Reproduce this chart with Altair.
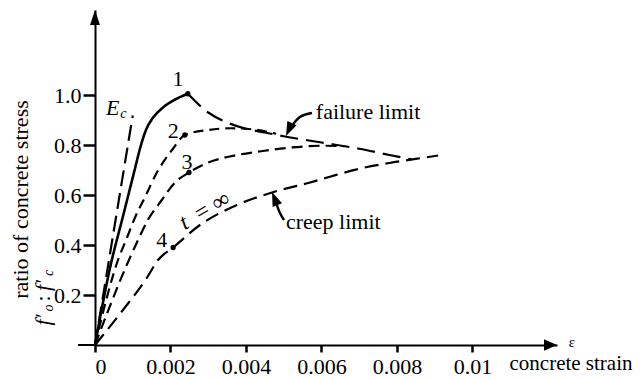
import altair as alt
import pandas as pd

FONT = "'Liberation Serif', 'Times New Roman', Times, 'DejaVu Serif', serif"

# ---------------- data ----------------
ec_strain = [0.0, 0.00100]
ec_stress = [0.0, 0.918]

c1_strain = [0.0, 0.0004, 0.00075, 0.00105, 0.00120, 0.00135, 0.00154, 0.0018, 0.0021, 0.00246]
c1_stress = [0.0, 0.31, 0.52, 0.70, 0.79, 0.86, 0.91, 0.95, 0.98, 1.005]

fail_strain = [0.00246, 0.0030, 0.0035, 0.0040, 0.0045, 0.0050, 0.0060, 0.0070, 0.0078, 0.0084]
fail_stress = [1.005, 0.93, 0.89, 0.865, 0.85, 0.835, 0.81, 0.785, 0.76, 0.742]

c2_strain = [0.0, 0.00061, 0.00085, 0.00106, 0.00132, 0.00164, 0.00204, 0.00238, 0.0030, 0.0036, 0.0042, 0.0048]
c2_stress = [0.0, 0.34, 0.43, 0.51, 0.59, 0.69, 0.78, 0.84, 0.86, 0.867, 0.862, 0.845]

c3_strain = [0.0, 0.00087, 0.00111, 0.0014, 0.00177, 0.00212, 0.00249, 0.0030, 0.0036, 0.0044, 0.0052, 0.0060, 0.0066]
c3_stress = [0.0, 0.33, 0.41, 0.50, 0.58, 0.65, 0.69, 0.73, 0.755, 0.775, 0.79, 0.797, 0.795]

c4_strain = [0.0, 0.00074, 0.00138, 0.00167, 0.00207, 0.00278, 0.00376, 0.00469, 0.0057, 0.0062, 0.0070, 0.0078, 0.0084, 0.00909]
c4_stress = [0.0, 0.14, 0.27, 0.34, 0.39, 0.48, 0.56, 0.61, 0.65, 0.672, 0.705, 0.728, 0.742, 0.758]

dot_strain = [0.00246, 0.00238, 0.00249, 0.00207]
dot_stress = [1.005, 0.84, 0.69, 0.39]

num_labels = ["1", "2", "3", "4"]
num_strain = [0.0022, 0.00207, 0.00244, 0.00177]
num_stress = [1.064, 0.856, 0.732, 0.42]

x_ticks = [0, 0.002, 0.004, 0.006, 0.008, 0.01]
y_ticks = [0.2, 0.4, 0.6, 0.8, 1.0]

X_MAX = 0.01224
Y_MAX = 1.34

# annotation arrows
fail_arrow_strain = [0.00575, 0.00543, 0.00525]
fail_arrow_stress = [0.928, 0.912, 0.884]
fail_tip = (0.00506, 0.836)
creep_arrow_strain = [0.00501, 0.00490, 0.00480]
creep_arrow_stress = [0.50, 0.528, 0.568]
creep_tip = (0.00469, 0.612)

xs = alt.Scale(domain=[0, X_MAX], nice=False, zero=False)
ys = alt.Scale(domain=[0, Y_MAX], nice=False, zero=False)


def df(xv, yv):
    return pd.DataFrame({"x": xv, "y": yv, "i": list(range(len(xv)))})


def curve(xv, yv, dash=None, width=2.2, interp="monotone"):
    kw = dict(color="black", strokeWidth=width, interpolate=interp, clip=False)
    if dash:
        kw["strokeDash"] = dash
    return alt.Chart(df(xv, yv)).mark_line(**kw).encode(
        x=alt.X("x:Q", scale=xs,
                axis=alt.Axis(values=x_ticks, format="~g", tickSize=7, labelPadding=4,
                              title="concrete strain", titleX=414, titleY=18,
                              titleAlign="left", titleBaseline="middle",
                              titleFont=FONT, titleFontSize=21, titleFontWeight="normal",
                              titleColor="black", grid=False)),
        y=alt.Y("y:Q", scale=ys,
                axis=alt.Axis(values=y_ticks, format=".1f", tickSize=12, labelPadding=2,
                              title="ratio of concrete stress", titleX=-75, titleY=189,
                              titleAngle=270, titleAlign="center", titleBaseline="middle",
                              titleFont=FONT, titleFontSize=22, titleFontWeight="normal",
                              titleColor="black", grid=False)),
        order="i:O",
    )


layers = []
layers.append(curve(ec_strain, ec_stress, dash=[16, 7]))
layers.append(curve(c1_strain, c1_stress, width=2.6))
layers.append(curve(fail_strain, fail_stress, dash=[18, 8]))
layers.append(curve(c2_strain, c2_stress, dash=[10, 6]))
layers.append(curve(c3_strain, c3_stress, dash=[11, 6]))
layers.append(curve(c4_strain, c4_stress, dash=[14, 7]))

# x-axis extension to the left of origin
layers.append(curve([-0.00045, 0.0], [0.0, 0.0], width=2, interp="linear"))

# dots
layers.append(alt.Chart(df(dot_strain, dot_stress)).mark_point(
    filled=True, color="black", size=28, opacity=1).encode(x="x:Q", y="y:Q"))

# axis arrowheads
up_tri = "M0,0L0.33,1L-0.33,1Z"
layers.append(alt.Chart(df([0.0], [Y_MAX])).mark_point(
    shape=up_tri, filled=True, color="black", size=900, opacity=1, clip=False).encode(
    x="x:Q", y="y:Q", angle=alt.value(0)))
right_tri = "M0,0L0.45,1L-0.45,1Z"
layers.append(alt.Chart(df([X_MAX], [0.0])).mark_point(
    shape=right_tri, filled=True, color="black", size=676, opacity=1, clip=False).encode(
    x="x:Q", y="y:Q", angle=alt.value(90)))

# annotation arrows
layers.append(curve(fail_arrow_strain, fail_arrow_stress, width=2.4))
layers.append(curve(creep_arrow_strain, creep_arrow_stress, width=2.4))
head = "M0,0L0.36,1L-0.36,1Z"
layers.append(alt.Chart(df([fail_tip[0]], [fail_tip[1]])).mark_point(
    shape=head, filled=True, color="black", size=800, opacity=1).encode(
    x="x:Q", y="y:Q", angle=alt.value(205)))
layers.append(alt.Chart(df([creep_tip[0]], [creep_tip[1]])).mark_point(
    shape=head, filled=True, color="black", size=800, opacity=1).encode(
    x="x:Q", y="y:Q", angle=alt.value(338)))


def text(label, x, y, size=22, style="normal", align="center", angle=0, font=FONT):
    d = pd.DataFrame({"x": [x], "y": [y], "t": [label]})
    return alt.Chart(d).mark_text(
        font=font, fontSize=size, fontStyle=style, align=align, baseline="middle",
        color="black", angle=angle).encode(x="x:Q", y="y:Q", text="t:N")


for lab, sx, sy in zip(num_labels, num_strain, num_stress):
    layers.append(text(lab, sx, sy))

layers.append(text("E", 0.00047, 0.95, style="italic"))
layers.append(text("c", 0.00075, 0.925, size=14, style="italic"))
layers.append(text("t", 0.00236, 0.49, size=23, style="italic", angle=330))
layers.append(text("= ∞", 0.00311, 0.555, size=24, angle=330))
layers.append(text("failure limit", 0.00585, 0.932, align="left"))
layers.append(text("creep limit", 0.00506, 0.492, align="left"))
layers.append(text("ε", 0.01255, 0.012, size=15, align="left"))

# f'o : f'c (rotated, below the axis title)
layers.append(text("f′", -0.001378, 0.10, style="italic", angle=270))
layers.append(text("o", -0.001219, 0.148, size=14, style="italic", angle=270))
layers.append(text(":", -0.001378, 0.186, angle=270))
layers.append(text("f′", -0.001378, 0.238, style="italic", angle=270))
layers.append(text("c", -0.001219, 0.288, size=14, style="italic", angle=270))

chart = alt.layer(*layers).properties(
    width=462, height=335,
    padding={"left": 87, "top": 2, "right": 78, "bottom": 33},
    autosize=alt.AutoSizeParams(type="none"),
    background="white",
).configure_view(stroke=None).configure_axis(
    labelFont=FONT, labelFontSize=22, labelColor="black",
    domainColor="black", domainWidth=2, tickColor="black", tickWidth=2.5,
)

chart.save("out.html", embed_options={"renderer": "svg", "actions": False})
